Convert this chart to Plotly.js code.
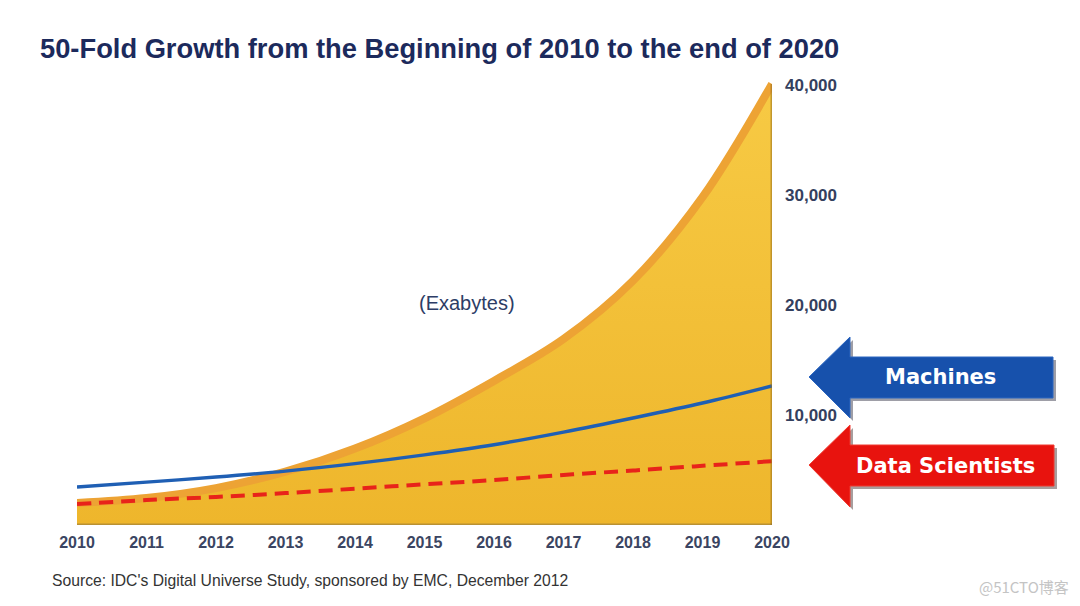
<!DOCTYPE html>
<html>
<head>
<meta charset="utf-8">
<script src="https://cdn.plot.ly/plotly-3.0.1.min.js"></script>
<style>html,body{margin:0;padding:0;background:#fff;}#chart{width:1080px;height:606px;}</style>
</head>
<body>
<div id="chart"></div>
<script>
// ---- data ----
const years = [2010, 2011, 2012, 2013, 2014, 2015, 2016, 2017, 2018, 2019, 2020];
const totalData = [2000, 2450, 3350, 4850, 6950, 9700, 13100, 16900, 22200, 29800, 40100]; // Exabytes
const machines = [3450, 3900, 4360, 4900, 5580, 6380, 7300, 8450, 9730, 11090, 12640];
const dataScientists = [1900, 2270, 2550, 2900, 3300, 3700, 4090, 4550, 4950, 5380, 5800];
const yTickVals = [10000, 20000, 30000, 40000];
const yTickText = ["10,000", "20,000", "30,000", "40,000"];
const xTickText = years.map(String);

// ---- layout geometry (pixels) ----
const W = 1080, H = 606;
const L = 77, R = 772, T = 63, B = 525;
const px = v => (v - L) / (R - L);
const py = v => (B - v) / (B - T);
function poly(pts, dx, dy) {
  return 'M ' + pts.map(p => px(p[0] + dx) + ',' + py(p[1] + dy)).join(' L ') + ' Z';
}
const blueArrow = [[809,377],[850,337],[850,357],[1053,357],[1053,398],[850,398],[850,418]];
const redArrow  = [[809,465],[850,425],[850,445],[1054,445],[1054,486],[850,486],[850,507]];

const traces = [
  {
    x: years, y: totalData, type: 'scatter', mode: 'lines',
    line: {color: '#eda334', width: 8, shape: 'spline', smoothing: 1},
    fill: 'tozeroy',
    fillgradient: {type: 'vertical', colorscale: [[0, '#eeb62c'], [1, '#f7ca44']]},
    fillcolor: '#f3c13b',
    hoverinfo: 'skip', cliponaxis: false
  },
  {
    x: years, y: machines, type: 'scatter', mode: 'lines',
    line: {color: '#1f5fb4', width: 3.4, shape: 'spline', smoothing: 1},
    hoverinfo: 'skip'
  },
  {
    x: years, y: dataScientists, type: 'scatter', mode: 'lines',
    line: {color: '#e8231a', width: 4, dash: '14px,8px', shape: 'spline', smoothing: 1},
    hoverinfo: 'skip'
  }
];

const layout = {
  width: W, height: H,
  margin: {l: L, r: W - R, t: T, b: H - B, pad: 0},
  paper_bgcolor: '#ffffff', plot_bgcolor: 'rgba(0,0,0,0)',
  showlegend: false,
  title: {
    text: '<b>50-Fold Growth from the Beginning of 2010 to the end of 2020</b>',
    font: {family: 'Liberation Sans, Arial, sans-serif', size: 27.3, color: '#1c2a5c'},
    x: 40 / W, xanchor: 'left', xref: 'container',
    y: 1 - 48 / H, yanchor: 'middle', yref: 'container'
  },
  xaxis: {
    range: [2010, 2020], tickvals: years, ticktext: xTickText,
    showgrid: false, zeroline: false, showline: false, ticks: '',
    ticklabelstandoff: 6,
    tickfont: {family: 'Liberation Sans, Arial, sans-serif', size: 16, color: '#3b4562', weight: 'bold'}
  },
  yaxis: {
    range: [0, 42000], side: 'right', tickvals: yTickVals, ticktext: yTickText,
    showgrid: false, zeroline: false, showline: false, ticks: '',
    ticklabelstandoff: 12,
    tickfont: {family: 'Liberation Sans, Arial, sans-serif', size: 17, color: '#34405e', weight: 'bold'}
  },
  shapes: [
    {type: 'path', xref: 'paper', yref: 'paper', path: poly(blueArrow, 3, 3), fillcolor: 'rgba(40,40,60,0.45)', line: {width: 0}},
    {type: 'path', xref: 'paper', yref: 'paper', path: poly(blueArrow, 0, 0), fillcolor: '#1751ac', line: {color: '#2c66c0', width: 1}},
    {type: 'path', xref: 'paper', yref: 'paper', path: poly(redArrow, 3, 3), fillcolor: 'rgba(60,40,40,0.45)', line: {width: 0}},
    {type: 'path', xref: 'paper', yref: 'paper', path: poly(redArrow, 0, 0), fillcolor: '#e8130e', line: {color: '#f03a30', width: 1}},
    {type: 'line', xref: 'x', yref: 'y', x0: years[years.length - 1], x1: years[years.length - 1], y0: 0, y1: totalData[totalData.length - 1],
     line: {color: 'rgba(150,110,30,0.55)', width: 3}},
    {type: 'line', xref: 'x', yref: 'y', x0: years[0], x1: years[years.length - 1], y0: 0, y1: 0,
     line: {color: 'rgba(120,100,60,0.45)', width: 3}}
  ],
  annotations: [
    {text: '(Exabytes)', xref: 'paper', yref: 'paper', x: px(467), y: py(303), xanchor: 'center', yanchor: 'middle', showarrow: false,
     font: {family: 'Liberation Sans, Arial, sans-serif', size: 20, color: '#2d3d66'}},
    {text: '<b>Machines</b>', xref: 'paper', yref: 'paper', x: px(941), y: py(377), xanchor: 'center', yanchor: 'middle', showarrow: false,
     font: {family: 'DejaVu Sans, sans-serif', size: 21, color: '#ffffff'}},
    {text: '<b>Data Scientists</b>', xref: 'paper', yref: 'paper', x: px(945), y: py(466), xanchor: 'center', yanchor: 'middle', showarrow: false,
     font: {family: 'DejaVu Sans, sans-serif', size: 21, color: '#ffffff'}},
    {text: "Source: IDC's Digital Universe Study, sponsored by EMC, December 2012", xref: 'paper', yref: 'paper',
     x: px(50), y: py(580), xanchor: 'left', yanchor: 'middle', showarrow: false,
     font: {family: 'Liberation Sans, Arial, sans-serif', size: 15.7, color: '#333333'}},
    {text: '@51CTO博客', xref: 'paper', yref: 'paper', x: px(1071), y: py(586), xanchor: 'right', yanchor: 'middle', showarrow: false,
     font: {family: 'Noto Sans CJK SC, sans-serif', size: 15, color: '#c4c4c4'}}
  ]
};

Plotly.newPlot('chart', traces, layout, {displayModeBar: false, staticPlot: true});
</script>
</body>
</html>
